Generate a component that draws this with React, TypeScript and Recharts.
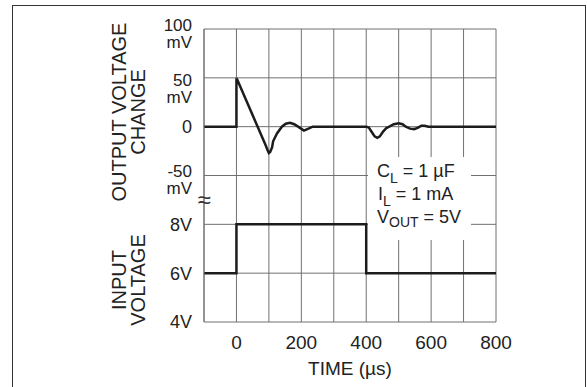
import React from 'react';
import { LineChart, Line, XAxis, YAxis, CartesianGrid, ReferenceLine, ReferenceDot } from 'recharts';

// time axis (µs)
const timeTicks = [-100, 0, 100, 200, 300, 400, 500, 600, 700, 800];
const timeLabels = [0, 200, 400, 600, 800];

// output voltage change (mV)
const outTime = [-100, 0, 0, 30, 60, 90, 97, 100, 104, 110, 113, 125, 140, 152, 165, 178, 190, 208, 222, 235,
  400, 408, 418, 426, 434, 442, 452, 462, 471, 485, 500, 512, 522, 535, 548, 560, 570, 580, 592, 800];
const outMv = [0, 0, 50, 27, 4, -19, -25, -27, -26, -21, -15, -7, 0, 3, 4, 2.5, 0, -4, -2, 0,
  0, -1, -6, -10, -11.5, -10, -5, -1.5, 0, 2.5, 3.5, 2.5, 0, -2, -2.5, -1, 1, 1, 0, 0];

// input voltage (V)
const inTime = [-100, 0, 0, 400, 400, 800];
const inVolts = [6, 6, 8, 8, 6, 6];

// tick labels
const outTicks = [100, 50, 0, -50];
const outUnits = ['mV', 'mV', '', 'mV'];
const inTicks = [8, 6, 4];

const outData = outTime.map((t, i) => ({ t, mv: outMv[i] }));
const inData = inTime.map((t, i) => ({ t, v: inVolts[i] }));

const FONT = '"Liberation Sans", Arial, sans-serif';
const INK = '#222';
const GRID = '#707070';

// plot box (matches the chart margins below)
const PLOT = { left: 204, right: 496, top: 29, height: 293 };
const OUT_DOMAIN = [-200, 100];
const gridY = (v: number) => PLOT.top + ((OUT_DOMAIN[1] - v) / (OUT_DOMAIN[1] - OUT_DOMAIN[0])) * PLOT.height;

// small nudges so the two-line labels sit like the original
const labelShift: Record<number, number> = { 100: -2, 50: 4, 0: 0, '-50': -3 };

const OutTick = (props: any) => {
  const { x, y, payload } = props;
  const i = outTicks.indexOf(payload.value);
  const unit = outUnits[i];
  const s = labelShift[payload.value] || 0;
  if (!unit) {
    return <text x={x} y={y + 6} textAnchor="end" fontSize={18} fill={INK} fontFamily={FONT}>{payload.value}</text>;
  }
  return (
    <g>
      <text x={x} y={y + 4 + s} textAnchor="end" fontSize={17} fill={INK} fontFamily={FONT}>{payload.value}</text>
      <text x={x} y={y + 21 + s} textAnchor="end" fontSize={17} fill={INK} fontFamily={FONT}>{unit}</text>
    </g>
  );
};

export default function App() {
  return (
    <div style={{ position: 'absolute', left: 0, top: 0, width: 587, height: 387, overflow: 'hidden', background: '#fff', fontFamily: FONT }}>
      <div style={{ position: 'absolute', left: 12, top: 5, width: 572, height: 390, border: '1.5px solid #333' }} />
      {/* zero line sits under the trace */}
      <svg width={587} height={387} style={{ position: 'absolute', left: 0, top: 0 }}>
        <line x1={PLOT.left} x2={PLOT.right} y1={gridY(0)} y2={gridY(0)} stroke={GRID} strokeWidth={1} />
      </svg>
      <div style={{ position: 'absolute', left: 0, top: 0 }}>
        <LineChart width={587} height={387} margin={{ top: 29, right: 91, bottom: 35, left: 0 }}>
          <CartesianGrid yAxisId="out" horizontal={false} stroke={GRID} strokeWidth={1} />
          <XAxis
            dataKey="t"
            type="number"
            domain={[-100, 800]}
            ticks={timeTicks}
            tickFormatter={(v: number) => (timeLabels.includes(v) ? String(v) : '')}
            tickLine={false}
            axisLine={{ stroke: GRID }}
            tickMargin={8}
            tick={{ fontSize: 19, fill: INK, fontFamily: FONT }}
            label={{ value: 'TIME (µs)', position: 'bottom', offset: 10, fontSize: 19, fill: INK, fontFamily: FONT }}
          />
          <YAxis
            yAxisId="out"
            type="number"
            domain={OUT_DOMAIN}
            ticks={outTicks}
            width={204}
            tickLine={false}
            tickMargin={6}
            axisLine={{ stroke: GRID }}
            tick={<OutTick />}
          />
          <YAxis yAxisId="in" type="number" domain={[4, 16]} width={0} hide />
          {inTicks.map((v) => (
            <ReferenceLine
              key={`i${v}`}
              yAxisId="in"
              y={v}
              stroke={v === 4 ? 'none' : GRID}
              label={{ value: `${v}V`, position: 'left', offset: 12, fontSize: 18, fill: INK, fontFamily: FONT }}
            />
          ))}
          <ReferenceDot
            yAxisId="out"
            x={-100}
            y={-75}
            r={1}
            fill="none"
            stroke="none"
            label={{ value: '≈', position: 'center', fontSize: 24, fill: '#333', fontFamily: FONT }}
          />
          <Line yAxisId="out" data={outData} dataKey="mv" type="linear" stroke="#1c1c1c" strokeWidth={2.5} dot={false} isAnimationActive={false} />
          <Line yAxisId="in" data={inData} dataKey="v" type="linear" stroke="#1c1c1c" strokeWidth={2.5} dot={false} isAnimationActive={false} />
        </LineChart>
      </div>
      <svg width={587} height={387} style={{ position: 'absolute', left: 0, top: 0, pointerEvents: 'none' }} fontFamily={FONT} fill={INK}>
        {outTicks.filter((v) => v !== 0).map((v) => (
          <line key={v} x1={PLOT.left} x2={PLOT.right} y1={gridY(v)} y2={gridY(v)} stroke={GRID} strokeWidth={1} />
        ))}
        <text transform="translate(126,112) rotate(-90)" textAnchor="middle" fontSize={20}>OUTPUT VOLTAGE</text>
        <text transform="translate(145,112) rotate(-90)" textAnchor="middle" fontSize={20}>CHANGE</text>
        <text transform="translate(126,280) rotate(-90)" textAnchor="middle" fontSize={20}>INPUT</text>
        <text transform="translate(145,280) rotate(-90)" textAnchor="middle" fontSize={20}>VOLTAGE</text>
        <rect x={368} y={157} width={103} height={83} fill="#fff" />
        <text x={377} y={177} fontSize={18}>C<tspan fontSize={14} dy={6}>L</tspan><tspan dy={-6}> = 1 µF</tspan></text>
        <text x={378} y={199.5} fontSize={18}>I<tspan fontSize={14} dy={6}>L</tspan><tspan dy={-6}> = 1 mA</tspan></text>
        <text x={377} y={222.5} fontSize={18}>V<tspan fontSize={14} dy={4}>OUT</tspan><tspan dy={-4}> = 5V</tspan></text>
      </svg>
    </div>
  );
}
